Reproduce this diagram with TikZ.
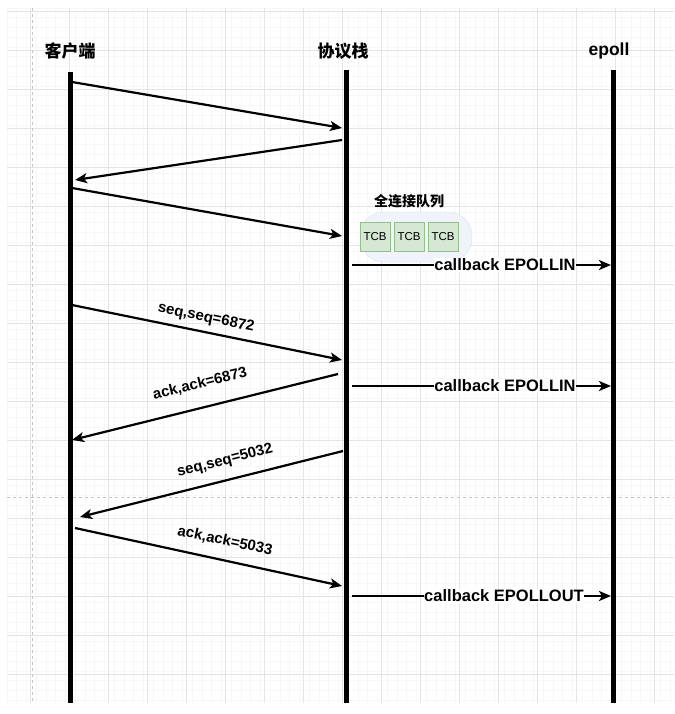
\documentclass[tikz,border=0pt]{standalone}
\usepackage{fontspec}
\setmainfont{Liberation Sans}
\newfontfamily\cjk{Noto Sans CJK SC}
\usetikzlibrary{arrows.meta}
\definecolor{gridminor}{RGB}{247,247,247}
\definecolor{gridmajor}{RGB}{228,228,228}
\definecolor{tcbfill}{RGB}{213,232,212}
\definecolor{tcbdraw}{RGB}{150,190,140}
\definecolor{qfill}{RGB}{240,243,250}
\definecolor{qdraw}{RGB}{218,225,240}
\tikzset{
  lifeline/.style={line width=5pt},
  msg/.style={line width=2.2pt,-{Stealth[length=12pt,width=10pt,inset=3pt]}},
  cb/.style={line width=2.2pt,-{Stealth[length=12pt,width=10pt,inset=3pt]}},
  head/.style={font=\cjk\bfseries\fontsize{17}{19}\selectfont},
  lbl/.style={font=\bfseries\fontsize{15}{17}\selectfont,inner sep=1pt},
  cblbl/.style={font=\bfseries\fontsize{16.5}{18}\selectfont,fill=white,inner sep=0.5pt},
  tcb/.style={draw=tcbdraw,fill=tcbfill,line width=1pt,minimum width=30pt,minimum height=29pt,inner sep=0pt,font=\fontsize{11.5}{13}\selectfont},
  dashline/.style={draw=gray!45,dashed,line width=0.8pt}
}
\begin{document}
\begin{tikzpicture}[x=1pt,y=-1pt]
\useasboundingbox (0,0) rectangle (674,714);
\fill[white] (0,0) rectangle (674,714);
% grid
\foreach \i in {0,...,69} {
  \draw[gridminor,line width=0.6pt] ({7+\i*9.75},8) -- ({7+\i*9.75},703);
}
\foreach \j in {0,...,71} {
  \draw[gridminor,line width=0.6pt] (7,{8+\j*9.75}) -- (674,{8+\j*9.75});
}
\foreach \i in {0,...,16} {
  \draw[gridmajor,line width=0.8pt] ({30+\i*39},8) -- ({30+\i*39},703);
}
\foreach \j in {0,...,17} {
  \draw[gridmajor,line width=0.8pt] (7,{11+\j*39}) -- (674,{11+\j*39});
}
\draw[dashline] (32,8) -- (32,703);
\draw[dashline] (7,497) -- (674,497);

% headers
\node[head] (hc) at (70,51) {客户端};
\node[head] (hs) at (343,51) {协议栈};
\node[head,font=\bfseries\fontsize{17.5}{19}\selectfont] (he) at (609,51) {epoll};

% lifelines
\coordinate (ct) at (70,72); \coordinate (cb) at (70,703);
\coordinate (st) at (346,70); \coordinate (sb) at (346,703);
\coordinate (et) at (613,70); \coordinate (eb) at (613,703);
\draw[lifeline] (ct) -- (cb);
\draw[lifeline] (st) -- (sb);
\draw[lifeline] (et) -- (eb);

% queue
\node[draw=qdraw,fill=qfill,rounded corners=24pt,minimum width=112pt,minimum height=50pt] (q) at (416,237) {};
\node[font=\cjk\bfseries\fontsize{14}{16}\selectfont] (qt) at (409,201) {全连接队列};
\node[tcb] (t1) at (375,237) {TCB};
\node[tcb] (t2) at (409,237) {TCB};
\node[tcb] (t3) at (443,237) {TCB};

% handshake
\coordinate (a1s) at (72,82);  \coordinate (a1e) at (342,128);
\coordinate (a2s) at (342,140); \coordinate (a2e) at (75,180);
\coordinate (a3s) at (72,188); \coordinate (a3e) at (342,236);
\draw[msg] (a1s) -- (a1e);
\draw[msg] (a2s) -- (a2e);
\draw[msg] (a3s) -- (a3e);

% callbacks
\coordinate (c1s) at (352,265); \coordinate (c1e) at (611,265);
\coordinate (c2s) at (352,386); \coordinate (c2e) at (611,386);
\coordinate (c3s) at (352,596); \coordinate (c3e) at (611,596);
\draw[cb] (c1s) -- (c1e);
\draw[cb] (c2s) -- (c2e);
\draw[cb] (c3s) -- (c3e);
\node[cblbl] (l1) at (505,265) {callback EPOLLIN};
\node[cblbl] (l2) at (505,386) {callback EPOLLIN};
\node[cblbl] (l3) at (504,596) {callback EPOLLOUT};

% data
\coordinate (d1s) at (72,305); \coordinate (d1e) at (342,360);
\coordinate (d2s) at (338,374); \coordinate (d2e) at (72,440);
\coordinate (d3s) at (343,451); \coordinate (d3e) at (80,517);
\coordinate (d4s) at (75,528); \coordinate (d4e) at (342,586);
\draw[msg] (d1s) -- (d1e);
\draw[msg] (d2s) -- (d2e);
\draw[msg] (d3s) -- (d3e);
\draw[msg] (d4s) -- (d4e);
\node[lbl,rotate=-11.5] (m1) at (206,318) {seq,seq=6872};
\node[lbl,rotate=13.5] (m2) at (200,384) {ack,ack=6873};
\node[lbl,rotate=14] (m3) at (225,461) {seq,seq=5032};
\node[lbl,rotate=-12] (m4) at (225,541) {ack,ack=5033};
\end{tikzpicture}
\end{document}
